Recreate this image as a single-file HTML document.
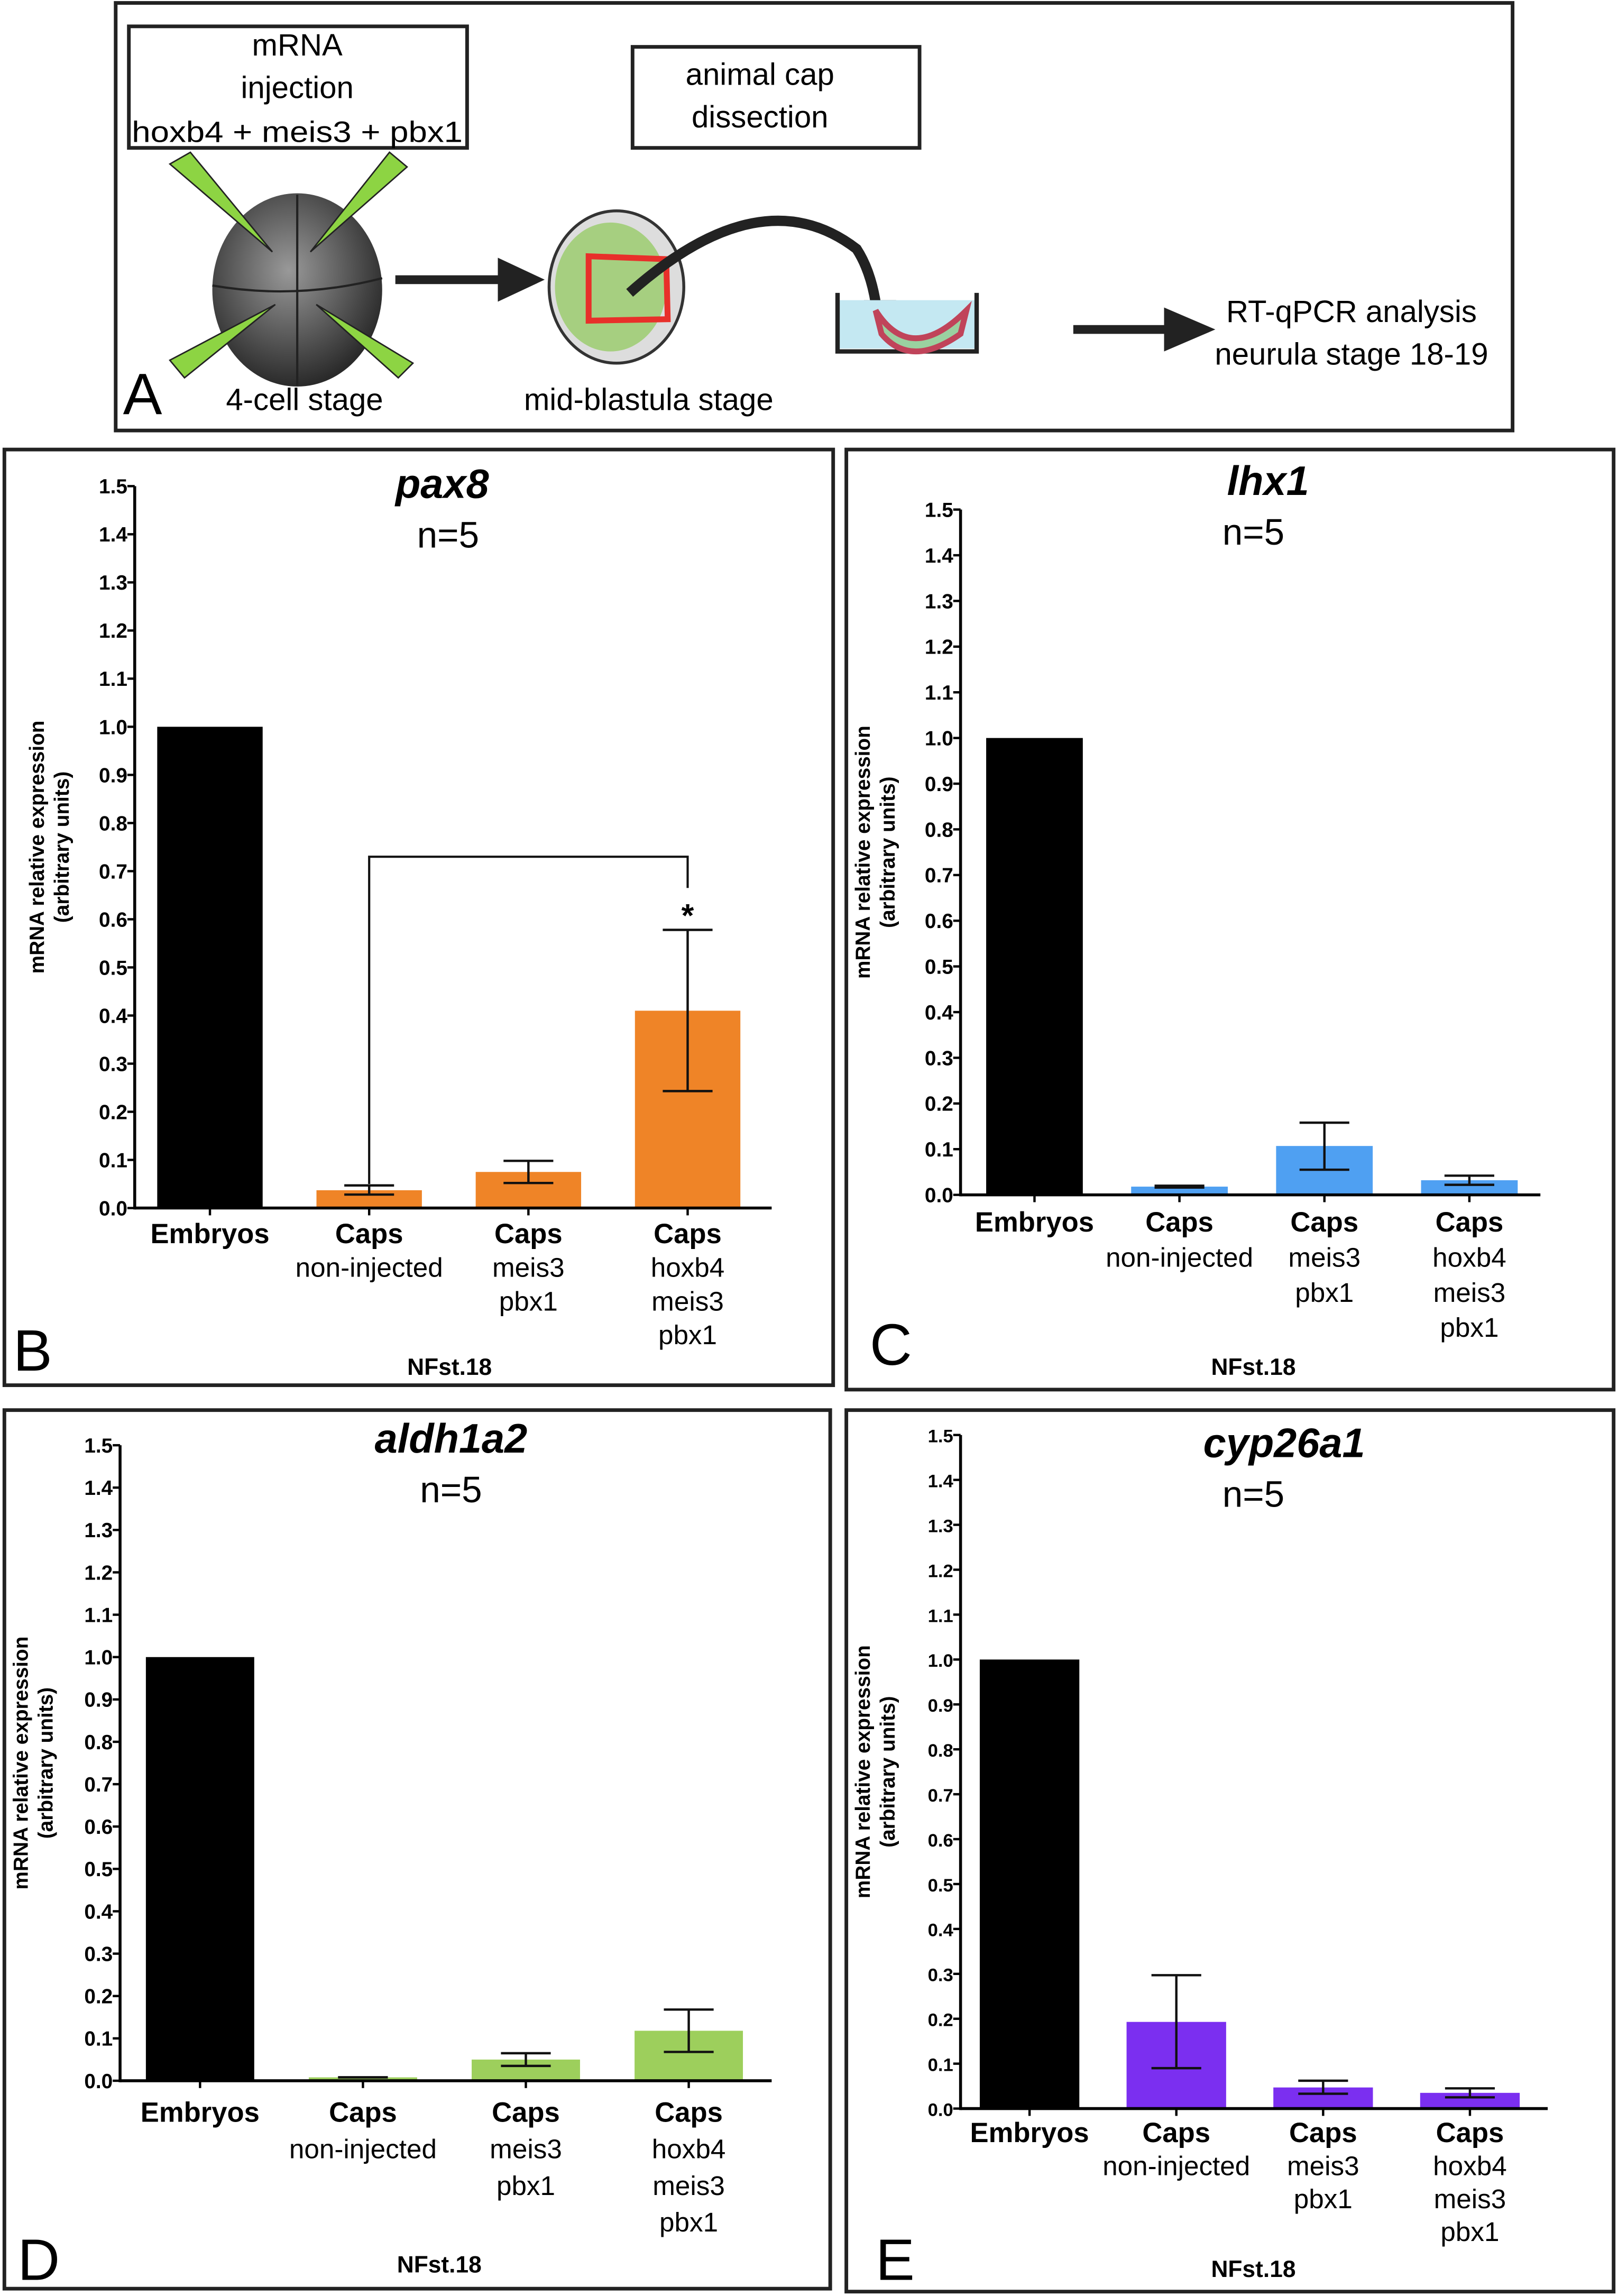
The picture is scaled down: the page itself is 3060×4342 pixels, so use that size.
<!DOCTYPE html>
<html><head><meta charset="utf-8"><style>
html,body{margin:0;padding:0;background:#fff;}
svg{display:block;}
text{font-family:"Liberation Sans",sans-serif;}
</style></head><body>
<svg id="fig" width="3060" height="4342" viewBox="0 0 1105 1568" preserveAspectRatio="none" xmlns="http://www.w3.org/2000/svg">
<defs>
<radialGradient id="eg" cx="0.45" cy="0.4" r="0.6"><stop offset="0" stop-color="#999"/><stop offset="1" stop-color="#2a2a2a"/></radialGradient>
</defs>
<g>
<rect x="79" y="2" width="954" height="292" fill="none" stroke="#222" stroke-width="2.5"/>
<rect x="88" y="18" width="231" height="83" fill="none" stroke="#222" stroke-width="2.5"/>
<text x="203" y="38" font-size="21" text-anchor="middle">mRNA</text>
<text x="203" y="67" font-size="21" text-anchor="middle">injection</text>
<text x="203" y="97" font-size="20" text-anchor="middle" textLength="226" lengthAdjust="spacingAndGlyphs">hoxb4 + meis3 + pbx1</text>
<rect x="432" y="32" width="196" height="69" fill="none" stroke="#222" stroke-width="2.5"/>
<text x="519" y="58" font-size="21" text-anchor="middle">animal cap</text>
<text x="519" y="87" font-size="21" text-anchor="middle">dissection</text>
<ellipse cx="203" cy="198" rx="58" ry="66" fill="url(#eg)"/>
<line x1="203" y1="133" x2="203" y2="263" stroke="#222" stroke-width="1.5"/>
<path d="M145 195 Q203 205 261 190" stroke="#222" stroke-width="1.5" fill="none"/>
<polygon points="116,112 130,104 186,172" fill="#8dd443" stroke="#222" stroke-width="1"/>
<polygon points="266,104 278,114 212,172" fill="#8dd443" stroke="#222" stroke-width="1"/>
<polygon points="116,246 126,258 188,208" fill="#8dd443" stroke="#222" stroke-width="1"/>
<polygon points="272,258 282,248 216,208" fill="#8dd443" stroke="#222" stroke-width="1"/>
<line x1="270" y1="191" x2="345" y2="191" stroke="#222" stroke-width="6"/>
<polygon points="340,176 372,191 340,206" fill="#222"/>
<ellipse cx="421" cy="196" rx="46" ry="52" fill="#ddd" stroke="#333" stroke-width="2"/>
<ellipse cx="417" cy="196" rx="38" ry="44" fill="#a6cf80"/>
<path d="M402 175 L455 177 L456 218 L402 219 Z" fill="none" stroke="#e8302a" stroke-width="4"/>
<path d="M430 200 Q520 120 585 170 Q598 190 600 225" stroke="#222" stroke-width="7" fill="none"/>
<polygon points="590,205 612,205 603,235" fill="#222"/>
<rect x="572" y="205" width="95" height="33" fill="#c4e8f2"/>
<path d="M572 200 L572 240 L667 240 L667 200" fill="none" stroke="#222" stroke-width="3"/>
<path d="M598 212 Q622 250 660 212 L656 228 Q622 252 602 228 Z" fill="#9ad1a0" stroke="#c0445a" stroke-width="4"/>
<line x1="733" y1="225" x2="800" y2="225" stroke="#222" stroke-width="6"/>
<polygon points="795,210 830,225 795,240" fill="#222"/>
<text x="923" y="220" font-size="21" text-anchor="middle">RT-qPCR analysis</text>
<text x="923" y="249" font-size="21" text-anchor="middle">neurula stage 18-19</text>
<text x="84" y="283" font-size="40">A</text>
<text x="208" y="280" font-size="21" text-anchor="middle">4-cell stage</text>
<text x="443" y="280" font-size="21" text-anchor="middle">mid-blastula stage</text>
</g>
<g id="charts"></g>
</svg>
<script>
const categories = ["Embryos", "Caps", "Caps", "Caps"];
const subLabels = [[], ["non-injected"], ["meis3", "pbx1"], ["hoxb4", "meis3", "pbx1"]];
const yTicks = ["0.0","0.1","0.2","0.3","0.4","0.5","0.6","0.7","0.8","0.9","1.0","1.1","1.2","1.3","1.4","1.5"];
const pax8Values = [1.0, 0.037, 0.075, 0.41];
const pax8Low = [1.0, 0.028, 0.052, 0.243];
const pax8High = [1.0, 0.047, 0.098, 0.578];
const lhx1Values = [1.0, 0.018, 0.107, 0.032];
const lhx1Low = [1.0, 0.016, 0.055, 0.022];
const lhx1High = [1.0, 0.020, 0.158, 0.042];
const aldhValues = [1.0, 0.008, 0.05, 0.118];
const aldhLow = [1.0, 0.008, 0.035, 0.068];
const aldhHigh = [1.0, 0.008, 0.065, 0.168];
const cypValues = [1.0, 0.193, 0.047, 0.035];
const cypLow = [1.0, 0.09, 0.033, 0.025];
const cypHigh = [1.0, 0.297, 0.062, 0.045];

const NS = "http://www.w3.org/2000/svg";
const root = document.getElementById("charts");
function mk(tag, attrs, parent, txt) {
  const e = document.createElementNS(NS, tag);
  for (const k in attrs) e.setAttribute(k, attrs[k]);
  if (txt !== undefined) e.textContent = txt;
  parent.appendChild(e);
  return e;
}
function chart(cfg, vals, lo, hi) {
  const g = mk("g", {}, root);
  
  
  const box = mk("rect", {x: cfg.box[0], y: cfg.box[1], width: cfg.box[2], height: cfg.box[3], fill: "none", stroke: "#222", "stroke-width": 2.5}, g);
  
  
  const y = v => cfg.y0 - (v / 1.5) * (cfg.y0 - cfg.y15);
  const step = (cfg.xEnd - cfg.ax) / 4;
  const xc = i => cfg.ax + step * (i + 0.5) + cfg.shift;
  vals.forEach((v, i) => {
    const r = mk("rect", {x: xc(i) - cfg.bw / 2, y: y(v), width: cfg.bw, height: cfg.y0 - y(v), fill: i === 0 ? "#000" : cfg.color}, g);
    
    
    if (i > 0) {
      const eb = mk("g", {stroke: "#111", "stroke-width": 1.6}, g);
      
      
      mk("line", {x1: xc(i), x2: xc(i), y1: y(lo[i]), y2: y(hi[i])}, eb);
      mk("line", {x1: xc(i) - 17, x2: xc(i) + 17, y1: y(lo[i]), y2: y(lo[i])}, eb);
      mk("line", {x1: xc(i) - 17, x2: xc(i) + 17, y1: y(hi[i]), y2: y(hi[i])}, eb);
    }
  });
  const ya = mk("line", {x1: cfg.ax, x2: cfg.ax, y1: cfg.y15, y2: cfg.y0 + 1, stroke: "#000", "stroke-width": 2}, g);
  
  
  const xa = mk("line", {x1: cfg.ax, x2: cfg.xEnd, y1: cfg.y0, y2: cfg.y0, stroke: "#000", "stroke-width": 2}, g);
  
  
  yTicks.forEach((t) => {
    const v = parseFloat(t);
    mk("line", {x1: cfg.ax - 5, x2: cfg.ax, y1: y(v), y2: y(v), stroke: "#000", "stroke-width": 1.6}, g);
    const tl = mk("text", {x: cfg.ax - 5, y: y(v) + 5, "font-size": cfg.tickFs, "font-weight": "bold", "text-anchor": "end"}, g, t);
    
    
  });
  const yt = mk("text", {transform: `translate(${cfg.ytX},${(cfg.y0 + cfg.y15) / 2}) rotate(-90)`, "font-size": 14, "font-weight": "bold", "text-anchor": "middle"}, g);
  
  
  mk("tspan", {x: 0, y: 0}, yt, "mRNA relative expression");
  mk("tspan", {x: 0, y: 17}, yt, "(arbitrary units)");
  categories.forEach((c, i) => {
    mk("line", {x1: xc(i), x2: xc(i), y1: cfg.y0, y2: cfg.y0 + 5, stroke: "#000", "stroke-width": 1.6}, g);
    const cl = mk("text", {x: xc(i), y: cfg.capY, "font-size": 19, "font-weight": "bold", "text-anchor": "middle"}, g, c);
    
    
    subLabels[i].forEach((s, j) => {
      const sl = mk("text", {x: xc(i), y: cfg.capY + cfg.lineH * (j + 1), "font-size": 18.5, "text-anchor": "middle"}, g, s);
      
      
    });
  });
  const ti = mk("text", {x: cfg.titleX, y: cfg.titleY, "font-size": 28, "font-weight": "bold", "font-style": "italic", "text-anchor": "middle"}, g, cfg.title);
  
  
  const n = mk("text", {x: cfg.nX, y: cfg.titleY + 34, "font-size": 25, "text-anchor": "middle"}, g, "n=5");
  
  
  const nf = mk("text", {x: cfg.nfX, y: cfg.nfY, "font-size": 16, "font-weight": "bold", "text-anchor": "middle"}, g, "NFst.18");
  
  
  const pl = mk("text", {x: cfg.plX, y: cfg.plY, "font-size": 40}, g, cfg.letter);
  
  
  return {g, y, xc};
}
const B = chart({name: "panel-b-pax8", box: [3, 307, 566, 639], ax: 92, xEnd: 527, y0: 825, y15: 332, bw: 72, shift: -3, color: "#ef8427", tickFs: 14, ytX: 30, capY: 849, lineH: 23, title: "pax8", titleX: 302, titleY: 340, nX: 306, nfX: 307, nfY: 939, plX: 9, plY: 936, letter: "B"}, pax8Values, pax8Low, pax8High);
const br = mk("path", {d: `M${B.xc(1)} ${B.y(0.05)} V${B.y(0.73)} H${B.xc(3)} V${B.y(0.665)}`, fill: "none", stroke: "#111", "stroke-width": 1.5}, B.g);


const st = mk("text", {x: B.xc(3), y: B.y(0.585), "font-size": 22, "font-weight": "bold", "text-anchor": "middle"}, B.g, "*");


chart({name: "panel-c-lhx1", box: [578, 307, 524, 642], ax: 656, xEnd: 1052, y0: 816, y15: 348, bw: 66, shift: 1, color: "#4fa0f2", tickFs: 14, ytX: 594, capY: 841, lineH: 24, title: "lhx1", titleX: 866, titleY: 338, nX: 856, nfX: 856, nfY: 939, plX: 594, plY: 932, letter: "C"}, lhx1Values, lhx1Low, lhx1High);
chart({name: "panel-d-aldh1a2", box: [3, 963, 564, 600], ax: 82, xEnd: 527, y0: 1421, y15: 987, bw: 74, shift: -1, color: "#9dcf5c", tickFs: 14, ytX: 19, capY: 1449, lineH: 25, title: "aldh1a2", titleX: 308, titleY: 992, nX: 308, nfX: 300, nfY: 1552, plX: 12, plY: 1557, letter: "D"}, aldhValues, aldhLow, aldhHigh);
chart({name: "panel-e-cyp26a1", box: [578, 963, 524, 602], ax: 656, xEnd: 1057, y0: 1440, y15: 980, bw: 68, shift: -3, color: "#7b2ff0", tickFs: 12.5, ytX: 594, capY: 1463, lineH: 22.5, title: "cyp26a1", titleX: 877, titleY: 995, nX: 856, nfX: 856, nfY: 1555, plX: 598, plY: 1557, letter: "E"}, cypValues, cypLow, cypHigh);
</script>
</body></html>
